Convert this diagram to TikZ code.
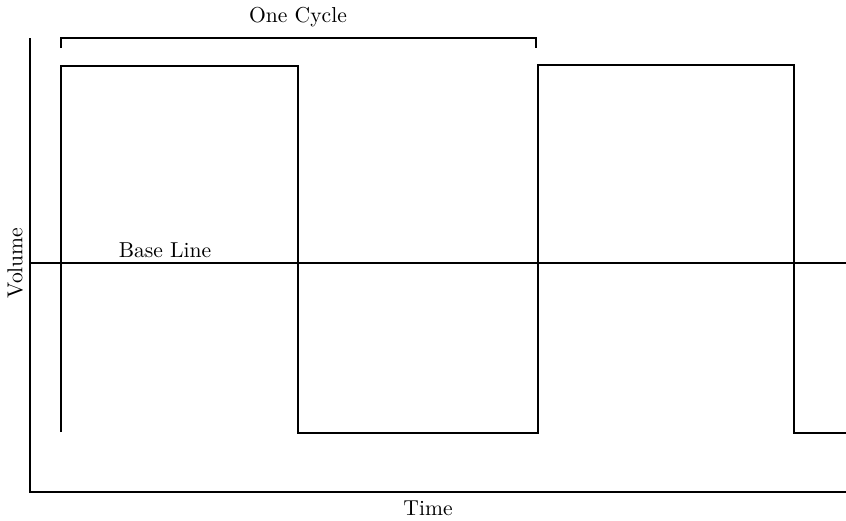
\documentclass[tikz,border=0pt]{standalone}
\usepackage{tikz}
\usetikzlibrary{positioning}

\begin{document}
\begin{tikzpicture}[x=0.5pt,y=-0.5pt,
  lbl/.style={font=\fontsize{10.8}{13}\selectfont},
  wave/.style={line width=1.2pt}]
\useasboundingbox (0,0) rectangle (846,520);

% axes
\coordinate (o)  at (30,492);
\coordinate (yt) at (30,38);
\coordinate (xr) at (846,492);
\draw[wave] (yt) -- (o) -- (xr);

% base line
\coordinate (b0) at (30,263);
\coordinate (b1) at (846,263);
\draw[line width=0.7pt] (b0) -- (b1);

% square wave
\coordinate (w0) at (61,432);
\coordinate (w1) at (61,66);
\coordinate (w2) at (298,66);
\coordinate (w3) at (298,433);
\coordinate (w4) at (538,433);
\coordinate (w5) at (538,65);
\coordinate (w6) at (794,65);
\coordinate (w7) at (794,433);
\coordinate (w8) at (846,433);
\draw[wave] (w0) -- (w1) -- (w2) -- (w3) -- (w4) -- (w5) -- (w6) -- (w7) -- (w8);

% one cycle bracket
\coordinate (c0) at (61,48);
\coordinate (c1) at (61,38);
\coordinate (c2) at (536,38);
\coordinate (c3) at (536,48);
\draw[wave] (c0) -- (c1) -- (c2) -- (c3);

\node[lbl] (cyc)  at (298,17)  {One Cycle};
\node[lbl] (base) at (165,250) {Base Line};
\node[lbl,rotate=90] (vol) at (15,263) {Volume};
\node[lbl] (time) at (428,508) {Time};

\end{tikzpicture}
\end{document}
